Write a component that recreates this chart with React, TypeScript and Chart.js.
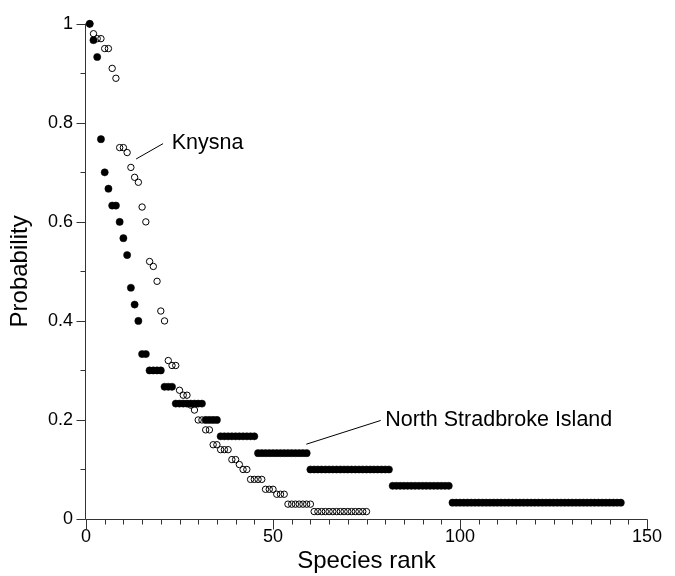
import React, { useEffect, useRef } from "react";
import { Chart, registerables } from "chart.js";

Chart.register(...registerables);

// North Stradbroke Island (filled circles)
const stradbrokeValues: number[] = [
  1, 0.967, 0.933, 0.767, 0.7, 0.667, 0.633, 0.633, 0.6, 0.567,
  0.533, 0.467, 0.433, 0.4,
  0.333, 0.333,
  0.3, 0.3, 0.3, 0.3,
  0.267, 0.267, 0.267,
  0.233, 0.233, 0.233, 0.233, 0.233, 0.233, 0.233, 0.233,
  0.2, 0.2, 0.2, 0.2,
  0.167, 0.167, 0.167, 0.167, 0.167, 0.167, 0.167, 0.167, 0.167, 0.167,
  0.133, 0.133, 0.133, 0.133, 0.133, 0.133, 0.133, 0.133, 0.133, 0.133, 0.133, 0.133, 0.133, 0.133,
  0.1, 0.1, 0.1, 0.1, 0.1, 0.1, 0.1, 0.1, 0.1, 0.1, 0.1,
  0.1, 0.1, 0.1, 0.1, 0.1, 0.1, 0.1, 0.1, 0.1, 0.1, 0.1,
  0.067, 0.067, 0.067, 0.067, 0.067, 0.067, 0.067, 0.067,
  0.067, 0.067, 0.067, 0.067, 0.067, 0.067, 0.067, 0.067,
  0.033, 0.033, 0.033, 0.033, 0.033, 0.033, 0.033, 0.033, 0.033, 0.033,
  0.033, 0.033, 0.033, 0.033, 0.033, 0.033, 0.033, 0.033, 0.033, 0.033,
  0.033, 0.033, 0.033, 0.033, 0.033, 0.033, 0.033, 0.033, 0.033, 0.033,
  0.033, 0.033, 0.033, 0.033, 0.033, 0.033, 0.033, 0.033, 0.033, 0.033,
  0.033, 0.033, 0.033, 0.033, 0.033, 0.033,
];

// Knysna (open circles)
const knysnaValues: number[] = [
  1, 0.98, 0.97, 0.97, 0.95, 0.95, 0.91, 0.89, 0.75, 0.75,
  0.74, 0.71, 0.69, 0.68, 0.63, 0.6, 0.52, 0.51, 0.48, 0.42,
  0.4, 0.32, 0.31, 0.31, 0.26, 0.25, 0.25, 0.23, 0.22, 0.2,
  0.2, 0.18, 0.18, 0.15, 0.15, 0.14, 0.14, 0.14, 0.12, 0.12,
  0.11, 0.1, 0.1, 0.08, 0.08, 0.08, 0.08, 0.06, 0.06, 0.06,
  0.05, 0.05, 0.05, 0.03, 0.03, 0.03, 0.03, 0.03, 0.03, 0.03,
  0.015, 0.015, 0.015, 0.015, 0.015, 0.015, 0.015, 0.015, 0.015, 0.015,
  0.015, 0.015, 0.015, 0.015, 0.015,
];

const xMajorTicks = [0, 50, 100, 150];
const xMinorTicks = [5, 10, 15, 20, 25, 30, 35, 40, 45, 55, 60, 65, 70, 75, 80, 85, 90, 95, 105, 110, 115, 120, 125, 130, 135, 140, 145];
const yMajorTicks = [0, 0.2, 0.4, 0.6, 0.8, 1];
const yMinorTicks = [0.1, 0.3, 0.5, 0.7, 0.9];

// annotation labels (data coordinates)
const annotationTexts = ["Knysna", "North Stradbroke Island"];
const annotationTextPos = [[22.9, 0.76], [80, 0.2]];
const annotationLines = [
  [13.4, 0.727, 20.6, 0.758],
  [58.9, 0.151, 78.8, 0.199],
];

const FONT = "'Liberation Sans', Arial, Helvetica, sans-serif";

const axisPlugin = {
  id: "customAxes",
  afterDraw(chart: any) {
    const ctx = chart.ctx;
    const xs = chart.scales.x;
    const ys = chart.scales.y;
    const ax = Math.round(xs.getPixelForValue(0)) - 0.5;
    const ay = Math.round(ys.getPixelForValue(0)) + 0.5;
    ctx.save();
    ctx.strokeStyle = "#333";
    ctx.lineWidth = 1;
    ctx.beginPath();
    ctx.moveTo(ax, Math.round(ys.getPixelForValue(1)) - 0.5);
    ctx.lineTo(ax, ay);
    ctx.lineTo(Math.round(xs.getPixelForValue(150)) + 0.5, ay);
    xMajorTicks.forEach((v) => {
      const px = Math.round(xs.getPixelForValue(v)) + 0.5;
      ctx.moveTo(px, ay);
      ctx.lineTo(px, ay + 10);
    });
    xMinorTicks.forEach((v) => {
      const px = Math.round(xs.getPixelForValue(v)) + 0.5;
      ctx.moveTo(px, ay);
      ctx.lineTo(px, ay + 5);
    });
    yMajorTicks.forEach((v) => {
      const py = Math.round(ys.getPixelForValue(v)) + 0.5;
      ctx.moveTo(ax, py);
      ctx.lineTo(ax - 9, py);
    });
    yMinorTicks.forEach((v) => {
      const py = Math.round(ys.getPixelForValue(v)) + 0.5;
      ctx.moveTo(ax, py);
      ctx.lineTo(ax - 5, py);
    });
    ctx.stroke();

    ctx.strokeStyle = "#000";
    ctx.beginPath();
    annotationLines.forEach((l) => {
      ctx.moveTo(xs.getPixelForValue(l[0]), ys.getPixelForValue(l[1]));
      ctx.lineTo(xs.getPixelForValue(l[2]), ys.getPixelForValue(l[3]));
    });
    ctx.stroke();
    ctx.fillStyle = "#000";
    ctx.font = `21.5px ${FONT}`;
    ctx.textAlign = "left";
    ctx.textBaseline = "middle";
    annotationTexts.forEach((t, i) => {
      const p = annotationTextPos[i];
      ctx.fillText(t, xs.getPixelForValue(p[0]), ys.getPixelForValue(p[1]));
    });
    ctx.restore();
  },
};

export default function App() {
  const canvasRef = useRef<HTMLCanvasElement | null>(null);

  useEffect(() => {
    if (!canvasRef.current) return;
    Chart.defaults.font.family = FONT;
    const chart = new Chart(canvasRef.current, {
      type: "scatter",
      data: {
        datasets: [
          {
            label: "North Stradbroke Island",
            data: stradbrokeValues.map((v, i) => ({ x: i + 1, y: v })),
            pointRadius: 3.6,
            pointBorderWidth: 0.5,
            pointBackgroundColor: "#000",
            pointBorderColor: "#000",
            clip: false as any,
          },
          {
            label: "Knysna",
            data: knysnaValues.map((v, i) => ({ x: i + 1, y: v })),
            pointRadius: 3.2,
            pointBorderWidth: 1,
            pointBackgroundColor: "rgba(0,0,0,0)",
            pointBorderColor: "#000",
            clip: false as any,
          },
        ],
      },
      options: {
        animation: false,
        responsive: false,
        maintainAspectRatio: false,
        events: [],
        layout: { padding: { left: 0, right: 28, top: 17, bottom: 0 } },
        plugins: {
          legend: { display: false },
          tooltip: { enabled: false },
        },
        scales: {
          x: {
            type: "linear",
            min: 0,
            max: 150,
            grid: { display: false, drawTicks: false },
            border: { display: false },
            ticks: {
              stepSize: 50,
              padding: 7,
              color: "#000",
              font: { size: 18, family: FONT },
              maxRotation: 0,
            },
            title: {
              display: true,
              text: "Species rank",
              color: "#000",
              font: { size: 24, family: FONT },
              padding: { top: 0, bottom: 0 },
            },
            afterFit: (s: any) => {
              s.height = 57;
            },
          },
          y: {
            type: "linear",
            min: 0,
            max: 1,
            grid: { display: false, drawTicks: false },
            border: { display: false },
            ticks: {
              stepSize: 0.2,
              padding: 13,
              color: "#000",
              font: { size: 18, family: FONT },
              callback: (v: any) => String(Number(Number(v).toFixed(1))),
            },
            title: {
              display: true,
              text: "Probability",
              color: "#000",
              font: { size: 24, family: FONT },
              padding: { top: 6, bottom: 0 },
            },
            afterFit: (s: any) => {
              s.width = 86;
            },
          },
        },
      },
      plugins: [axisPlugin],
    });
    return () => chart.destroy();
  }, []);

  return (
    <div style={{ position: "absolute", left: 0, top: 0, width: 675, height: 576, background: "#fff" }}>
      <canvas ref={canvasRef} width={675} height={576} style={{ width: 675, height: 576, display: "block" }} />
    </div>
  );
}
